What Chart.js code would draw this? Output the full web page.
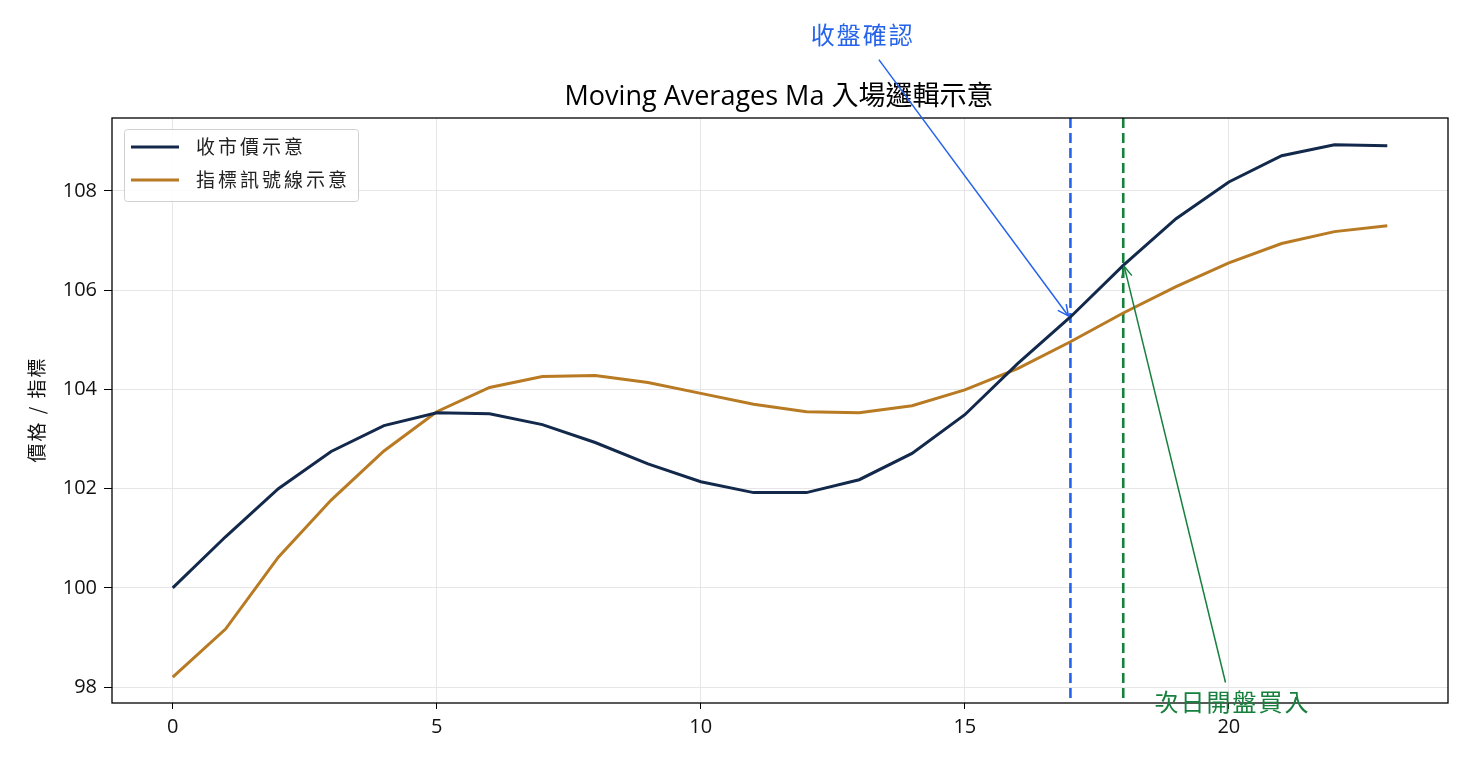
<!DOCTYPE html>
<html><head><meta charset="utf-8">
<script src="https://cdn.jsdelivr.net/npm/chart.js@4.4.1/dist/chart.umd.min.js"></script>
<style>html,body{margin:0;padding:0;background:#fff}canvas{display:block}</style>
</head><body>
<canvas id="c" width="1472" height="768" style="width:1472px;height:768px"></canvas>
<script>
const days = [0,1,2,3,4,5,6,7,8,9,10,11,12,13,14,15,16,17,18,19,20,21,22,23];
const closeVals = [100.0,101.03,102.0,102.75,103.27,103.53,103.51,103.29,102.93,102.5,102.14,101.92,101.92,102.18,102.71,103.49,104.52,105.46,106.5,107.44,108.18,108.71,108.93,108.91];
const signalVals = [98.2,99.17,100.62,101.77,102.76,103.55,104.04,104.26,104.28,104.14,103.92,103.7,103.55,103.53,103.67,103.99,104.42,104.96,105.54,106.07,106.55,106.94,107.18,107.3];
const seriesNames = ['收市價示意','指標訊號線示意'];
const xTicks = [0,5,10,15,20];
const yTicks = [98,100,102,104,106,108];
const confirmDay = 17;
const entryDay = 18;
const titleText = 'Moving Averages Ma 入場邏輯示意';
const yTitle = '價格 / 指標';
const confirmLabel = '收盤確認';
const entryLabel = '次日開盤買入';

const FONT = '"Open Sans","Noto Sans CJK TC",sans-serif';
const CJK = '"Noto Sans CJK TC","Open Sans",sans-serif';
const NAVY = '#13294b', ORANGE = '#b87a22', BLUE = '#2563eb', GREEN = '#16813d';

function arrow(ctx, x1, y1, x2, y2, color) {
  ctx.save();
  ctx.strokeStyle = color; ctx.lineWidth = 1.5;
  ctx.beginPath(); ctx.moveTo(x1, y1); ctx.lineTo(x2, y2); ctx.stroke();
  const a = Math.atan2(y2 - y1, x2 - x1), L = 12, w = 0.45;
  ctx.beginPath();
  ctx.moveTo(x2 - L * Math.cos(a - w), y2 - L * Math.sin(a - w));
  ctx.lineTo(x2, y2);
  ctx.lineTo(x2 - L * Math.cos(a + w), y2 - L * Math.sin(a + w));
  ctx.stroke();
  ctx.restore();
}

const deco = {
  id: 'deco',
  beforeDatasetsDraw(chart) {
    const {ctx, chartArea: a, scales: {x, y}} = chart;
    ctx.save();
    ctx.lineWidth = 2.6;
    ctx.setLineDash([10, 5]);
    [[confirmDay, BLUE], [entryDay, GREEN]].forEach(([d, col]) => {
      const px = x.getPixelForValue(d);
      ctx.strokeStyle = col;
      ctx.beginPath(); ctx.moveTo(px, a.top); ctx.lineTo(px, a.bottom); ctx.stroke();
    });
    ctx.restore();
  },
  afterDraw(chart) {
    const {ctx, chartArea: a, scales: {x, y}} = chart;
    ctx.save();
    // frame
    ctx.strokeStyle = '#000'; ctx.lineWidth = 1.3;
    ctx.strokeRect(a.left, a.top, a.right - a.left, a.bottom - a.top);
    // title
    ctx.fillStyle = '#000'; ctx.font = '27px ' + FONT;
    ctx.textAlign = 'center'; ctx.textBaseline = 'alphabetic';
    ctx.fillText(titleText, (a.left + a.right) / 2 - 1, 105);
    // y axis title
    ctx.save();
    ctx.translate(36.5, (a.top + a.bottom) / 2);
    ctx.rotate(-Math.PI / 2);
    ctx.font = '19px ' + CJK; ctx.letterSpacing = '2px';
    ctx.fillStyle = '#111'; ctx.textAlign = 'center'; ctx.textBaseline = 'middle';
    ctx.fillText(yTitle, 1, 0);
    ctx.restore();
    // legend
    ctx.fillStyle = 'rgba(255,255,255,0.85)';
    ctx.strokeStyle = '#d0d0d0'; ctx.lineWidth = 1;
    ctx.beginPath(); ctx.roundRect(124.5, 129.5, 234, 72, 3); ctx.fill(); ctx.stroke();
    [[NAVY, seriesNames[0], 147], [ORANGE, seriesNames[1], 180]].forEach(([col, t, ly]) => {
      ctx.strokeStyle = col; ctx.lineWidth = 2.8;
      ctx.beginPath(); ctx.moveTo(131, ly); ctx.lineTo(179, ly); ctx.stroke();
      ctx.fillStyle = '#222'; ctx.font = '19px ' + CJK;
      ctx.letterSpacing = '3px';
      ctx.textAlign = 'left'; ctx.textBaseline = 'middle';
      ctx.fillText(t, 196, ly);
      ctx.letterSpacing = '0px';
    });
    // annotations
    ctx.letterSpacing = '2px';
    const hx1 = x.getPixelForValue(confirmDay), hy1 = y.getPixelForValue(closeVals[confirmDay]);
    const tx1 = x.getPixelForValue(13.05), ty1 = y.getPixelForValue(111.15);
    ctx.font = '24px ' + CJK; ctx.fillStyle = BLUE; ctx.textAlign = 'center'; ctx.textBaseline = 'middle';
    ctx.fillText(confirmLabel, tx1 + 1, ty1);
    arrow(ctx, tx1 + 17, ty1 + 25, hx1 - 2, hy1 - 1, BLUE);
    const hx2 = x.getPixelForValue(entryDay), hy2 = y.getPixelForValue(closeVals[entryDay]);
    const tx2 = x.getPixelForValue(20.05), ty2 = y.getPixelForValue(97.71);
    ctx.fillStyle = GREEN;
    ctx.fillText(entryLabel, tx2 + 1, ty2);
    ctx.letterSpacing = '0px';
    arrow(ctx, tx2 - 6, ty2 - 19, hx2 + 1, hy2 + 1, GREEN);
    ctx.restore();
  }
};

new Chart(document.getElementById('c'), {
  type: 'line',
  data: {
    datasets: [
      {label: seriesNames[0], data: days.map((d, i) => ({x: d, y: closeVals[i]})), borderColor: NAVY, borderWidth: 3, pointRadius: 0, tension: 0, fill: false},
      {label: seriesNames[1], data: days.map((d, i) => ({x: d, y: signalVals[i]})), borderColor: ORANGE, borderWidth: 3, pointRadius: 0, tension: 0, fill: false}
    ]
  },
  options: {
    responsive: false, animation: false, devicePixelRatio: 1,
    layout: {padding: {left: 0, right: 24, top: 118, bottom: 0}},
    plugins: {legend: {display: false}, title: {display: false}, tooltip: {enabled: false}},
    scales: {
      x: {
        type: 'linear', min: -1.15, max: 24.15,
        afterBuildTicks: s => { s.ticks = xTicks.map(v => ({value: v})); },
        afterFit: s => { s.height = 65; },
        grid: {color: '#e6e6e6', lineWidth: 1, tickColor: '#000', tickLength: 6, drawTicks: true},
        border: {display: false},
        ticks: {color: '#111', font: {family: FONT, size: 20}, padding: 6, maxRotation: 0}
      },
      y: {
        min: 97.68, max: 109.47,
        afterBuildTicks: s => { s.ticks = yTicks.map(v => ({value: v})); },
        afterFit: s => { s.width = 112; },
        grid: {color: '#e6e6e6', lineWidth: 1, tickColor: '#000', tickLength: 8, drawTicks: true},
        border: {display: false},
        ticks: {color: '#111', font: {family: FONT, size: 20}, padding: 7},
        title: {display: false}
      }
    }
  },
  plugins: [deco]
});
</script>
</body></html>
